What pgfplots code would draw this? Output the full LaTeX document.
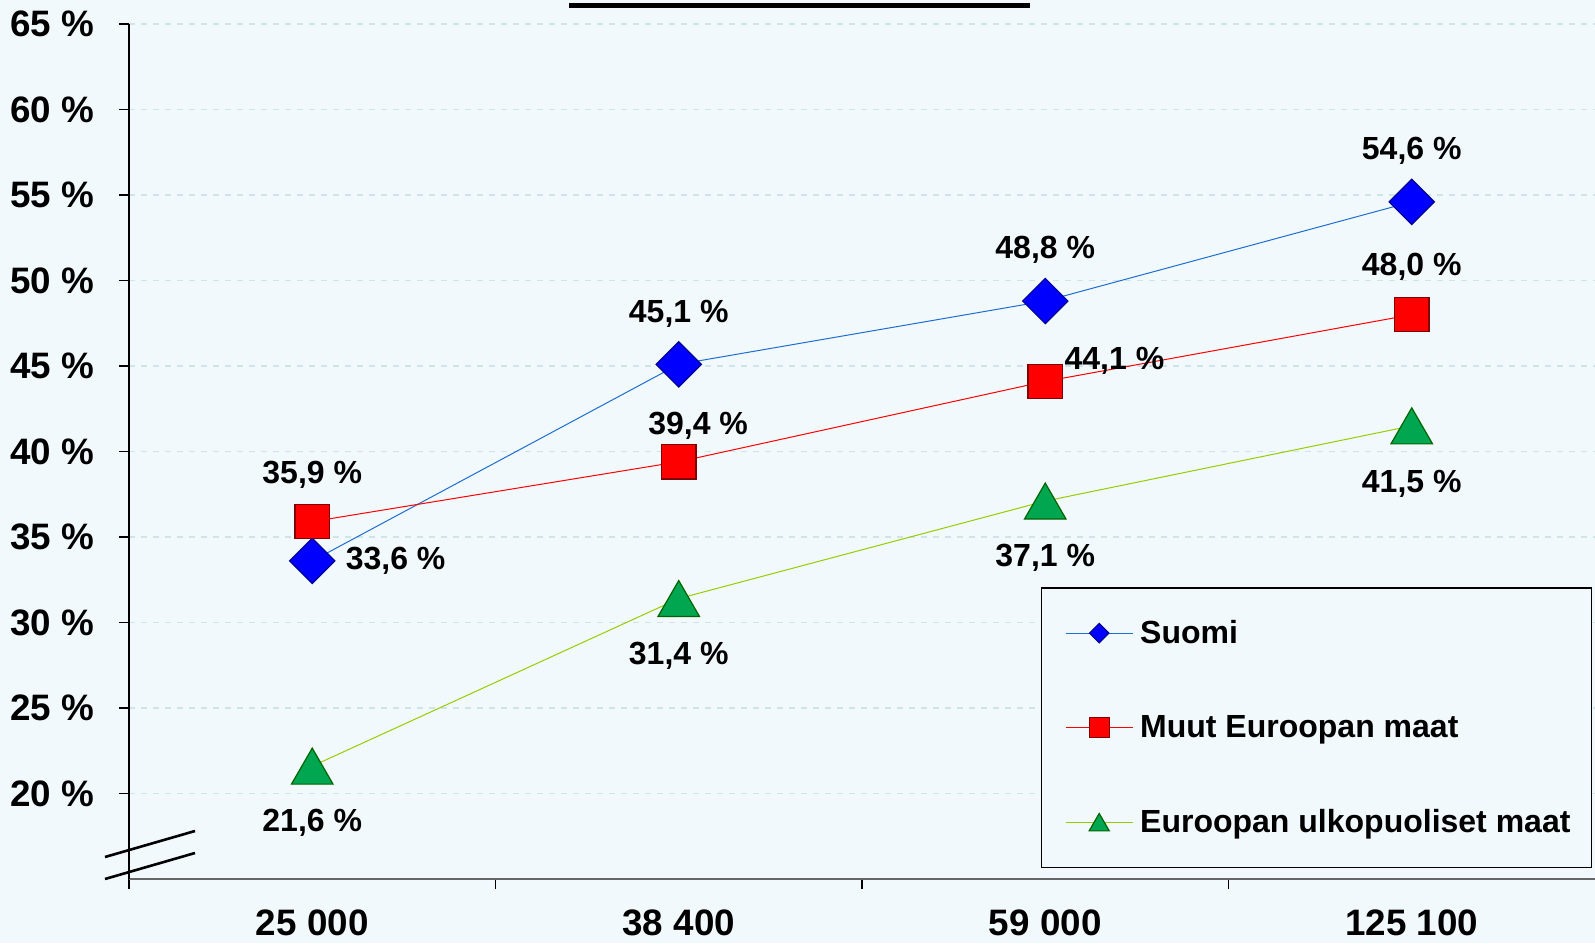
\documentclass[border=0pt]{standalone}
\usepackage{fontspec}
\setmainfont{Liberation Sans}
\usepackage{pgfplots}
\usepackage{pgfplotstable}
\pgfplotsset{compat=1.18}

\definecolor{bgcol}{RGB}{242,249,253}
\definecolor{gridcol}{RGB}{205,228,232}
\definecolor{suomiline}{RGB}{30,110,210}
\definecolor{suomifill}{RGB}{0,0,255}
\definecolor{suomidraw}{RGB}{0,0,150}
\definecolor{muutfill}{RGB}{255,0,0}
\definecolor{muutdraw}{RGB}{128,0,0}
\definecolor{ulkoline}{RGB}{153,204,0}
\definecolor{ulkofill}{RGB}{0,166,80}
\definecolor{ulkodraw}{RGB}{0,100,0}

% x = category index, dx/dy = offset of the value label (pt)
\pgfplotstableread{
x y dx dy
0 33.6 41.7 0
1 45.1 0 25.4
2 48.8 0 25.4
3 54.6 0 25.5
}\suomi
\pgfplotstableread{
x y dx dy
0 35.9 0 23.4
1 39.4 9.7 17.8
2 44.1 34.6 10.2
3 48.0 0 23.9
}\muut
\pgfplotstableread{
x y dx dy
0 21.6 0 -25.4
1 31.4 0 -25.4
2 37.1 0 -25.4
3 41.5 0 -25.9
}\ulko

\newcommand{\tickfont}{\fontsize{18.4}{22}\selectfont\bfseries}
\newcommand{\legfont}{\fontsize{16}{19}\selectfont\bfseries}

\begin{document}
\begin{tikzpicture}
\fill[bgcol] (-64.5pt,-32pt) rectangle (733pt,439.5pt);
\begin{axis}[
  scale only axis, width=733pt, height=427.5pt,
  xmin=-0.5, xmax=3.5, ymin=15, ymax=65,
  axis x line*=bottom, axis y line*=left,
  x axis line style={gray!80!black, line width=0.6pt},
  y axis line style={black, line width=0.6pt},
  xtick={-0.5,0.5,1.5,2.5}, xticklabels={},
  extra x ticks={0,1,2,3},
  extra x tick labels={25 000,38 400,59 000,125 100},
  extra x tick style={major tick length=0pt, grid=none,
    xticklabel style={yshift=-12pt}},
  ytick={20,25,...,65},
  yticklabel={\pgfmathprintnumber{\tick}~\%},
  yticklabel style={xshift=-9pt},
  tick align=outside, major tick length=5pt,
  tick style={black, line width=0.6pt},
  ymajorgrids, grid style={dashed, color=gridcol, line width=0.6pt},
  ticklabel style={font=\tickfont},
  /pgf/number format/assume math mode=true,
  clip=false,
  nodes near coords={\pgfmathprintnumber[fixed,fixed zerofill,precision=1,use comma]{\pgfplotspointmeta}~\%},
  visualization depends on={\thisrow{dx}\as\dx},
  visualization depends on={\thisrow{dy}\as\dy},
  nodes near coords style={font=\legfont, black, anchor=center, xshift=\dx pt, yshift=\dy pt},
  legend style={at={(rel axis cs:0.998,0.0129)}, anchor=south east,
    draw=black, fill=bgcol, line width=0.6pt, font=\legfont,
    inner xsep=8.5pt, inner ysep=14pt, row sep=30.5pt},
  legend cell align=left,
  legend image code/.code={\draw[mark repeat=2,mark phase=2] plot coordinates {(0pt,0pt) (16.75pt,0pt) (33.5pt,0pt)}; \path (-3.5pt,0pt) (35pt,0pt);},
]
\addplot[suomiline, line width=0.5pt, mark=square*, mark size=8pt,
  mark options={rotate=45, fill=suomifill, draw=suomidraw, line width=0.6pt},
  legend image post style={mark size=3.4pt}]
  table[x=x, y=y] {\suomi};
\addlegendentry{Suomi}
\addplot[red, line width=0.5pt, mark=square*, mark size=8.6pt,
  mark options={fill=muutfill, draw=muutdraw, line width=0.6pt},
  legend image post style={mark size=5pt}]
  table[x=x, y=y] {\muut};
\addlegendentry{Muut Euroopan maat}
\addplot[ulkoline, line width=0.5pt, mark=triangle*, mark size=12pt,
  mark options={fill=ulkofill, draw=ulkodraw, line width=0.6pt, yshift=-3pt},
  legend image post style={mark size=5.8pt,
    mark options={fill=ulkofill, draw=ulkodraw, line width=0.6pt, yshift=-1.4pt}}]
  table[x=x, y=y] {\ulko};
\addlegendentry{Euroopan ulkopuoliset maat}
\end{axis}
% axis break and cut-off title underline
\draw[black, line width=1.3pt] (-12pt,11pt) -- (33pt,24pt);
\draw[black, line width=1.3pt] (-12pt,0pt) -- (33pt,13pt);
\draw[black, line width=2.2pt] (220pt,436.75pt) -- (450.5pt,436.75pt);
\pgfresetboundingbox
\path[use as bounding box] (-64.5pt,-32pt) rectangle (733pt,439.5pt);
\end{tikzpicture}
\end{document}
